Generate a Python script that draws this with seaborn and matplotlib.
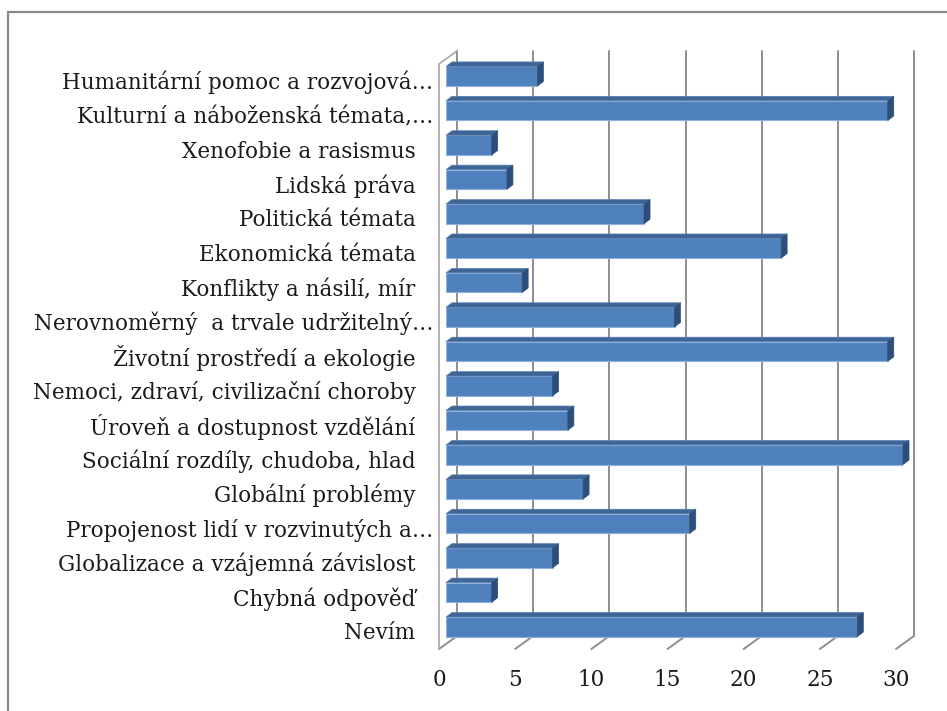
import matplotlib
matplotlib.use('Agg')
import numpy as np
import seaborn as sns
import matplotlib.pyplot as plt
from matplotlib import transforms
from matplotlib.patches import Polygon, Rectangle
from matplotlib.lines import Line2D

categories = ["Humanitární pomoc a rozvojová…",
              "Kulturní a náboženská témata,…",
              "Xenofobie a rasismus",
              "Lidská práva",
              "Politická témata",
              "Ekonomická témata",
              "Konflikty a násilí, mír",
              "Nerovnoměrný  a trvale udržitelný…",
              "Životní prostředí a ekologie",
              "Nemoci, zdraví, civilizační choroby",
              "Úroveň a dostupnost vzdělání",
              "Sociální rozdíly, chudoba, hlad",
              "Globální problémy",
              "Propojenost lidí v rozvinutých a…",
              "Globalizace a vzájemná závislost",
              "Chybná odpověď",
              "Nevím"]
values = [6, 29, 3, 4, 13, 22, 5, 15, 29, 7, 8, 30, 9, 16, 7, 3, 27]
xticks = [0, 5, 10, 15, 20, 25, 30]

sns.set_style('white')
plt.rcParams['font.family'] = ['DejaVu Serif']

W, H = 947, 711
fig = plt.figure(figsize=(W / 100, H / 100), dpi=100)
# axes = the plane of the bars' front faces
ax = fig.add_axes([446 / W, 1 - 644 / H, 457 / W, 585 / H])
ax.set_zorder(2)

sns.barplot(x=values, y=categories, orient='h', color='#4F81BD', saturation=1,
            width=0.57, ax=ax, edgecolor='#8FB2DD', linewidth=0.8, zorder=3)
ax.set_xlim(0, 30)
ax.set_ylim(len(categories) - 0.5, -0.5)
ax.set_xlabel('')
ax.set_ylabel('')
for s in ax.spines.values():
    s.set_visible(False)
ax.patch.set_alpha(0)

ident = transforms.IdentityTransform()
front = (-7, -5)    # front wall offset (px)
back = (11, 8)      # back wall offset (px)
bar_depth = (6, 4.5)
grid_c = '#8E8E8E'


def px(x, y, off=(0, 0)):
    X, Y = ax.transData.transform((x, y))
    return X + off[0], Y + off[1]


ytop, ybot = -0.5, len(categories) - 0.5

# back wall gridlines
for t in xticks:
    p0 = px(t, ybot, back)
    p1 = px(t, ytop, back)
    fig.add_artist(Line2D([p0[0], p1[0]], [p0[1], p1[1]], transform=ident,
                          color=grid_c, lw=1.4, zorder=1))
    # floor diagonals
    f0 = px(t, ybot, front)
    fig.add_artist(Line2D([f0[0], p0[0]], [f0[1], p0[1]], transform=ident,
                          color=grid_c, lw=1.4, zorder=1))

# left wall
a = px(0, ybot, front)
b = px(0, ytop, front)
c = px(0, ytop, back)
fig.add_artist(Line2D([a[0], b[0], c[0]], [a[1], b[1], c[1]], transform=ident,
                      color='#A8A8A8', lw=1.2, zorder=1))

# 3D faces of bars
fig.canvas.draw()
for bar in ax.patches:
    bb = bar.get_window_extent()
    x0, x1, y0, y1 = bb.x0, bb.x1, bb.y0, bb.y1
    dx, dy = bar_depth
    top = Polygon([(x0, y1), (x1, y1), (x1 + dx, y1 + dy), (x0 + dx, y1 + dy)],
                  closed=True, transform=ident, facecolor='#3E6596',
                  edgecolor='#5A80B0', lw=0.5, zorder=4)
    side = Polygon([(x1, y0), (x1, y1), (x1 + dx, y1 + dy), (x1 + dx, y0 + dy)],
                   closed=True, transform=ident, facecolor='#2D4E7A',
                   edgecolor='#2D4E7A', lw=0.5, zorder=4)
    fig.add_artist(top)
    fig.add_artist(side)

# tick labels
ax.set_xticks(xticks)
ax.set_xticklabels([str(t) for t in xticks])
ax.tick_params(axis='x', length=0, pad=18, labelsize=15.5, colors='#1A1A1A')
ax.tick_params(axis='y', length=0, pad=9, labelsize=15.5, colors='#1A1A1A')
for lab in ax.get_xticklabels():
    lab.set_transform(lab.get_transform() +
                      transforms.ScaledTranslation(-7 / 100, 0, fig.dpi_scale_trans))
for lab in ax.get_yticklabels():
    shift = 0 if lab.get_text().endswith('…') else -18
    lab.set_transform(lab.get_transform() +
                      transforms.ScaledTranslation(shift / 100, -4 / 100, fig.dpi_scale_trans))

# outer chart border
fig.add_artist(Rectangle((8 / W, -0.2), 1.3, 1 - 12 / H + 0.2, transform=fig.transFigure,
                         fill=False, edgecolor='#8A8A8A', lw=1.6))

fig.savefig('out.png', dpi=100)
